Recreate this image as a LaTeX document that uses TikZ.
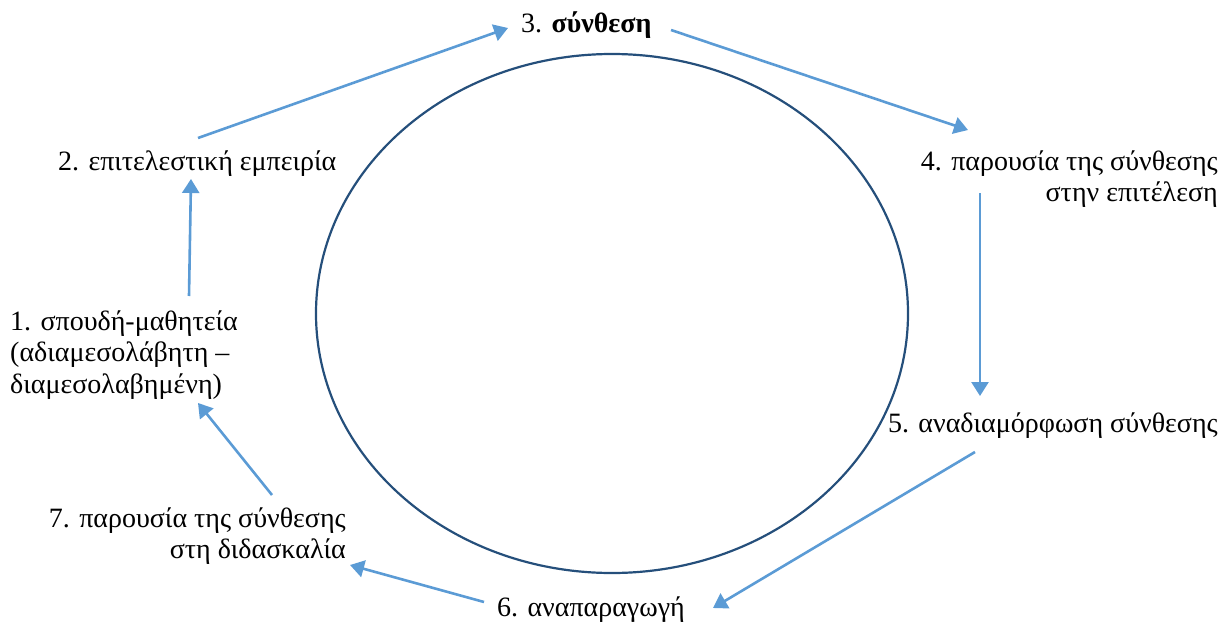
\documentclass[tikz,border=0pt]{standalone}
\usepackage{fontspec}
\setmainfont{Liberation Serif}
\usetikzlibrary{arrows.meta,shapes.geometric}
\definecolor{flow}{HTML}{5B9BD5}
\definecolor{ring}{HTML}{254F7B}
\tikzset{
  lbl/.style={inner sep=0pt, font=\fontsize{28}{30.5}\selectfont, text=black},
  flowarrow/.style={draw=flow, line width=2.6pt, -{Triangle[length=14pt,width=17pt]}},
}
\begin{document}
\begin{tikzpicture}[x=1pt,y=1pt]
\useasboundingbox (0,0) rectangle (1227,-626);
% the cycle in the middle
\node[draw=ring, line width=2.2pt, ellipse, minimum width=592pt, minimum height=519pt, inner sep=0pt] (ring) at (612,-313.5) {};
% stages (multi-line labels are anchored at the baseline of their last line)
\node[lbl, anchor=base west] (n3) at (521,-33) {3. \textbf{σύνθεση}};
\node[lbl, anchor=base west] (n2) at (58,-170) {2. επιτελεστική εμπειρία};
\node[lbl, anchor=base east, align=right] (n4) at (1218,-201) {4. παρουσία της σύνθεσης\\στην επιτέλεση};
\node[lbl, anchor=base east] (n5) at (1218,-432) {5. αναδιαμόρφωση σύνθεσης};
\node[lbl, anchor=base west] (n6) at (497,-616) {6. αναπαραγωγή};
\node[lbl, anchor=base east, align=right] (n7) at (346,-558) {7. παρουσία της σύνθεσης\\στη διδασκαλία};
\node[lbl, anchor=base west, align=left, font=\fontsize{28}{31.5}\selectfont] (n1) at (10,-393) {1. σπουδή-μαθητεία\\(αδιαμεσολάβητη –\\διαμεσολαβημένη)};
% flow between stages
\draw[flowarrow] ([shift={(179,97)}]n1.base west) -- ([shift={(133,-9)}]n2.base west);
\draw[flowarrow] ([shift={(140,32)}]n2.base west) -- ([shift={(-13,5)}]n3.base west);
\draw[flowarrow] ([shift={(150,3)}]n3.base west) -- ([shift={(-250,71)}]n4.base east);
\draw[flowarrow] ([shift={(-238,8)}]n4.base east) -- ([shift={(-238,36)}]n5.base east);
\draw[flowarrow] ([shift={(-243,-20)}]n5.base east) -- ([shift={(216,8)}]n6.base west);
\draw[flowarrow] ([shift={(-13,14)}]n6.base west) -- ([shift={(4,-7)}]n7.base east);
\draw[flowarrow] ([shift={(-74,63)}]n7.base east) -- ([shift={(188,-10)}]n1.base west);
\end{tikzpicture}
\end{document}
